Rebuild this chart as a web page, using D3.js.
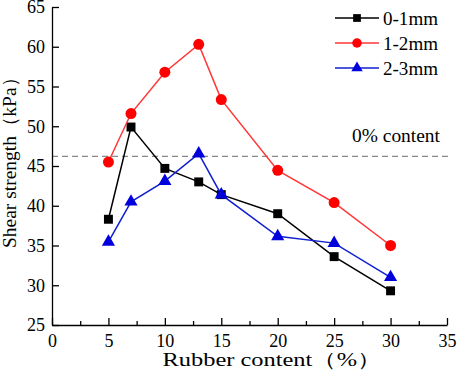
<!DOCTYPE html>
<html><head><meta charset="utf-8">
<script src="https://cdn.jsdelivr.net/npm/d3@7"></script>
<style>body{margin:0;background:#fff}svg{display:block}</style>
</head><body><svg id="c" width="457" height="374"></svg>
<script>
const xValues = [5, 7, 10, 13, 15, 20, 25, 30];
const seriesNames = ["0-1mm", "1-2mm", "2-3mm"];
const s01 = [38.3, 49.9, 44.7, 43.0, 41.4, 39.0, 33.6, 29.3];
const s12 = [45.5, 51.6, 56.8, 60.3, 53.35, 44.45, 40.4, 35.0];
const s23 = [35.45, 40.5, 43.1, 46.55, 41.4, 36.15, 35.3, 31.0];
const baseline = 46.2;
const xTicks = [0, 5, 10, 15, 20, 25, 30, 35];
const yTicks = [25, 30, 35, 40, 45, 50, 55, 60, 65];

const FONT = "Liberation Serif";
const svg = d3.select("#c");
const L = 52, R = 447, T = 7, B = 325;
const x = d3.scaleLinear().domain([0, 35]).range([L, R]);
const y = d3.scaleLinear().domain([25, 65]).range([B, T]);

svg.append("line").attr("x1", L).attr("x2", 451).attr("y1", y(baseline)).attr("y2", y(baseline))
  .attr("stroke", "#888").attr("stroke-width", 1.2).attr("stroke-dasharray", "6,4");
svg.append("text").attr("x", 396).attr("y", 142).attr("text-anchor", "middle")
  .attr("font-family", FONT).attr("font-size", 19).attr("textLength", 88).attr("lengthAdjust", "spacingAndGlyphs").text("0% content");

const xAxis = d3.axisBottom(x).tickValues(xTicks).tickSizeInner(-7).tickSizeOuter(0).tickPadding(9);
const gx = svg.append("g").attr("transform", `translate(0,${B})`).call(xAxis);
const xMinor = d3.axisBottom(x).tickValues(d3.range(2.5, 35, 5)).tickSizeInner(-4).tickSizeOuter(0).tickFormat("");
svg.append("g").attr("transform", `translate(0,${B})`).call(xMinor).select(".domain").remove();
const yAxis = d3.axisLeft(y).tickValues(yTicks).tickSizeInner(-7).tickSizeOuter(0).tickPadding(7);
const gy = svg.append("g").attr("transform", `translate(${L},0)`).call(yAxis);
[gx, gy].forEach(g => {
  g.attr("font-family", FONT).attr("font-size", 18);
  g.selectAll("text").attr("font-family", FONT).attr("font-size", 18).attr("fill", "#000");
  g.selectAll("line,path").attr("stroke", "#000").attr("stroke-width", 1.3);
});
svg.selectAll(".tick line").attr("stroke", "#000").attr("stroke-width", 1.3);

svg.append("text").attr("x", 272).attr("y", 366).attr("text-anchor", "middle")
  .attr("font-family", FONT).attr("font-size", 19).attr("textLength", 219).attr("lengthAdjust", "spacingAndGlyphs")
  .text("Rubber content（%）");
svg.append("text").attr("transform", "translate(16,158) rotate(-90)").attr("text-anchor", "middle")
  .attr("font-family", FONT).attr("font-size", 19).attr("textLength", 180).attr("lengthAdjust", "spacingAndGlyphs")
  .text("Shear strength（kPa）");

const series = [
  {name: seriesNames[0], vals: s01, line: "#000", fill: "#000", sym: d3.symbolSquare, size: 80},
  {name: seriesNames[1], vals: s12, line: "#ff3636", fill: "#ff0000", sym: d3.symbolCircle, size: 95},
  {name: seriesNames[2], vals: s23, line: "#1020d0", fill: "#0000dd", sym: d3.symbolTriangle, size: 75}
];
const lineGen = d3.line().x((d, i) => x(xValues[i])).y(d => y(d));
series.forEach(s => {
  svg.append("path").attr("d", lineGen(s.vals)).attr("fill", "none").attr("stroke", s.line).attr("stroke-width", 1.5);
  svg.selectAll(null).data(s.vals).enter().append("path")
    .attr("d", d3.symbol().type(s.sym).size(s.size))
    .attr("transform", (d, i) => `translate(${x(xValues[i])},${y(d)})`)
    .attr("fill", s.fill);
});

series.forEach((s, i) => {
  const ly = 18 + i * 25;
  svg.append("line").attr("x1", 335).attr("x2", 379).attr("y1", ly).attr("y2", ly).attr("stroke", s.line).attr("stroke-width", 1.5);
  svg.append("path").attr("d", d3.symbol().type(s.sym).size(s.size * 0.75)).attr("transform", `translate(357,${ly})`).attr("fill", s.fill);
  svg.append("text").attr("x", 383).attr("y", ly + 7).attr("font-family", FONT).attr("font-size", 19)
    .attr("textLength", 55).attr("lengthAdjust", "spacingAndGlyphs").text(s.name);
});
</script></body></html>
